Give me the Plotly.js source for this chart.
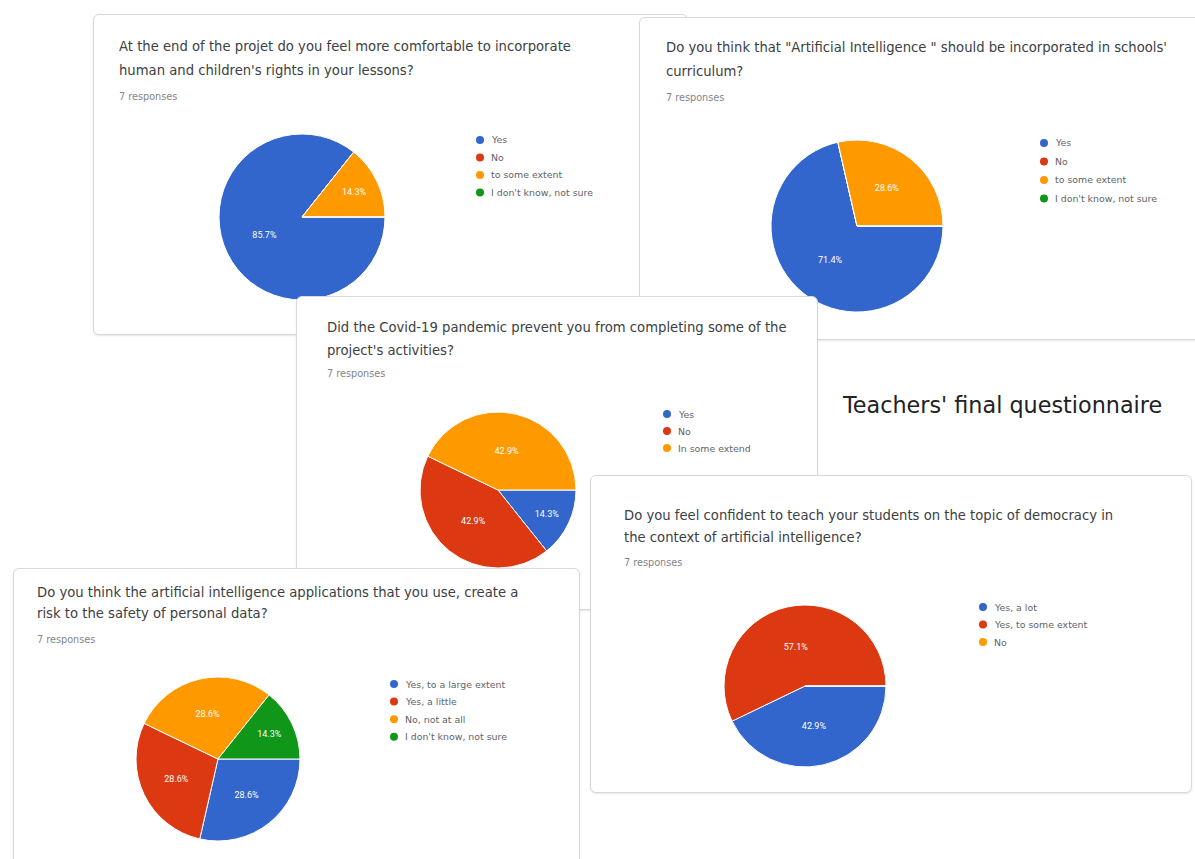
<!DOCTYPE html>
<html><head><meta charset="utf-8">
<script src="https://cdn.plot.ly/plotly-3.0.1.min.js"></script>
<style>
html,body{margin:0;padding:0;width:1195px;height:859px;overflow:hidden;background:#fff;}
.card{position:absolute;background:#fff;border:1px solid #d7d9dc;border-radius:6px;box-sizing:border-box;overflow:hidden;box-shadow:0 1px 2px rgba(0,0,0,0.10);}
</style></head><body>
<div id="bg" style="position:absolute;left:0;top:0;width:1195px;height:859px;z-index:0"></div>
<div id="c1" class="card"></div>
<div id="c2" class="card"></div>
<div id="c3" class="card"></div>
<div id="c4" class="card"></div>
<div id="c5" class="card"></div>
<script>
// ---- data ----
const pageTitle = "Teachers' final questionnaire";
const responsesText = "7 responses";

const q1Title = ["At the end of the projet do you feel more comfortable to incorporate", "human and children's rights in your lessons?"];
const q1Labels = ["Yes", "No", "to some extent", "I don't know, not sure"];
const q1Counts = [6, 0, 1, 0];

const q2Title = ["Do you think that \"Artificial Intelligence \" should be incorporated in schools'", "curriculum?"];
const q2Labels = ["Yes", "No", "to some extent", "I don't know, not sure"];
const q2Counts = [5, 0, 2, 0];

const q3Title = ["Did the Covid-19 pandemic prevent you from completing some of the", "project's activities?"];
const q3Labels = ["Yes", "No", "In some extend"];
const q3Counts = [1, 3, 3];

const q4Title = ["Do you think the artificial intelligence applications that you use, create a", "risk to the safety of personal data?"];
const q4Labels = ["Yes, to a large extent", "Yes, a little", "No, not at all", "I don't know, not sure"];
const q4Counts = [2, 2, 2, 1];

const q5Title = ["Do you feel confident to teach your students on the topic of democracy in", "the context of artificial intelligence?"];
const q5Labels = ["Yes, a lot", "Yes, to some extent", "No"];
const q5Counts = [3, 4, 0];

const sliceColors = ["#3366cc", "#dc3912", "#ff9900", "#109618"];

// ---- layout config (page pixels) ----
const cards = [
  {id:'c1', box:[93,14,688,335], z:1, title:q1Title, labels:q1Labels, values:q1Counts,
   tx:117, ty:[47,70,96], pie:[302,217,83], leg:[480,140,17.5]},
  {id:'c2', box:[639,17,1210,340], z:2, title:q2Title, labels:q2Labels, values:q2Counts,
   tx:664, ty:[47,71,97], pie:[857,226,86], leg:[1044,143,18.5]},
  {id:'c3', box:[296,296,818,610], z:3, title:q3Title, labels:q3Labels, values:q3Counts,
   tx:325, ty:[328,350,373], pie:[498,490,78], leg:[667,414,17]},
  {id:'c4', box:[13,568,580,880], z:4, title:q4Title, labels:q4Labels, values:q4Counts,
   tx:35, ty:[592,614,639], pie:[218,759,82], leg:[394,684,17.6]},
  {id:'c5', box:[590,475,1192,793], z:5, title:q5Title, labels:q5Labels, values:q5Counts,
   tx:622, ty:[515,538,562], pie:[805,686,81], leg:[983,607,17.5]}
];

const FONT = '"DejaVu Sans", "Open Sans", Arial, sans-serif';
const PCTFONT = 'Roboto, Arial, sans-serif';

// background with page title
Plotly.newPlot('bg', [], {
  width:1195, height:859, margin:{l:0,r:0,t:0,b:0},
  paper_bgcolor:'#ffffff', plot_bgcolor:'#ffffff',
  xaxis:{visible:false}, yaxis:{visible:false},
  annotations:[{text:pageTitle, xref:'paper', yref:'paper', x:840/1195, y:1-405/859,
    xanchor:'left', yanchor:'middle', showarrow:false,
    font:{family:'"DejaVu Sans", Arial, sans-serif', size:22.3, color:'#222222'}}]
}, {staticPlot:true, displayModeBar:false});

cards.forEach(c => {
  const [L,T,R,B] = c.box;
  const el = document.getElementById(c.id);
  el.style.left = L+'px'; el.style.top = T+'px';
  el.style.width = (R-L)+'px'; el.style.height = (B-T)+'px';
  el.style.zIndex = c.z;
  const ox = L+1, oy = T+1, W = R-L-2, H = B-T-2;
  const fx = px => (px-ox)/W;
  const fy = py => 1-(py-oy)/H;
  const [cx,cy,r] = c.pie;
  const ann = [];
  c.title.forEach((line,i) => ann.push({text:line, xref:'paper', yref:'paper', x:fx(c.tx), y:fy(c.ty[i]),
    xanchor:'left', yanchor:'middle', showarrow:false, font:{family:FONT, size:13.2, color:'#3c4043'}}));
  ann.push({text:responsesText, xref:'paper', yref:'paper', x:fx(c.tx), y:fy(c.ty[2]),
    xanchor:'left', yanchor:'middle', showarrow:false, font:{family:FONT, size:9.7, color:'#80868b'}});
  const shapes = [];
  const [lx,ly,ldy] = c.leg;
  c.labels.forEach((lab,i) => {
    const yy = ly + i*ldy;
    shapes.push({type:'circle', xref:'paper', yref:'paper', xsizemode:'pixel', ysizemode:'pixel',
      xanchor:fx(lx), yanchor:fy(yy), x0:-4, x1:4, y0:-4, y1:4,
      fillcolor:sliceColors[i], line:{width:0}});
    ann.push({text:lab, xref:'paper', yref:'paper', x:fx(lx+9), y:fy(yy),
      xanchor:'left', yanchor:'middle', showarrow:false, font:{family:FONT, size:9.4, color:'#5f6368'}});
  });
  const trace = {
    type:'pie', labels:c.labels, values:c.values, sort:false, direction:'clockwise', rotation:90,
    marker:{colors:sliceColors.slice(0,c.labels.length), line:{color:'#ffffff', width:1}},
    texttemplate:c.values.map(v => v>0 ? '%{percent:.1%}' : ''),
    textposition:'inside', insidetextorientation:'horizontal',
    textfont:{family:PCTFONT, size:9, color:'#ffffff'},
    hoverinfo:'none', showlegend:false,
    domain:{x:[fx(cx-r), fx(cx+r)], y:[fy(cy+r), fy(cy-r)]}
  };
  Plotly.newPlot(c.id, [trace], {
    width:W, height:H, margin:{l:0,r:0,t:0,b:0},
    paper_bgcolor:'rgba(0,0,0,0)', showlegend:false,
    annotations:ann, shapes:shapes
  }, {staticPlot:true, displayModeBar:false});
});
</script>
</body></html>
